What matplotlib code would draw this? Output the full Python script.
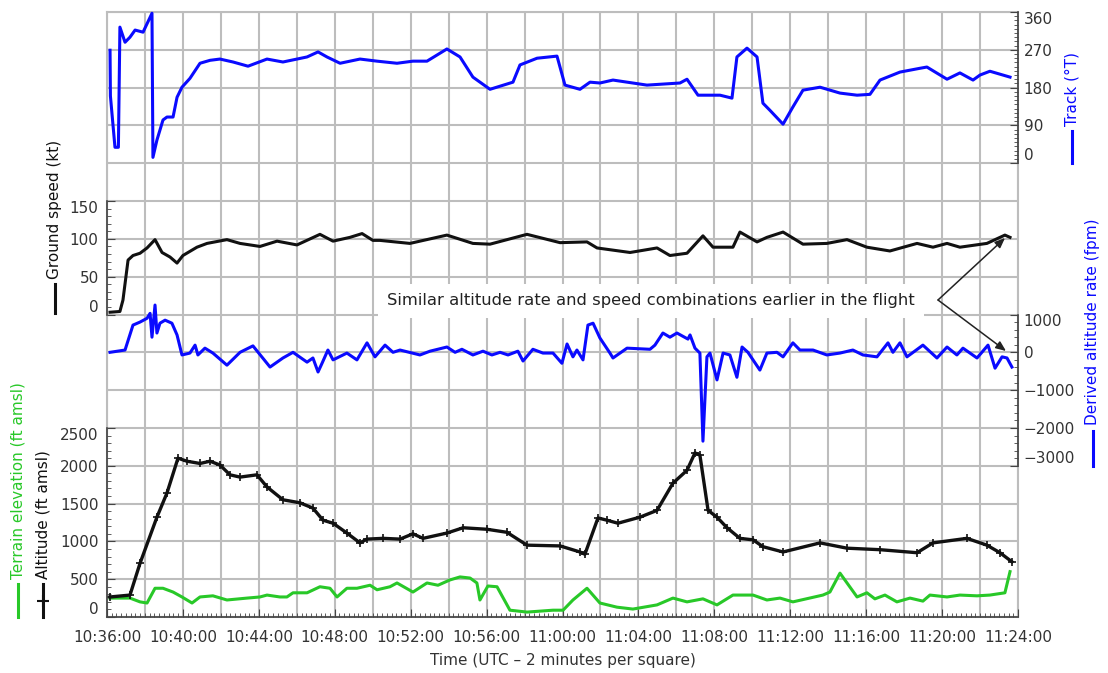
import matplotlib
matplotlib.use('Agg')
import matplotlib.pyplot as plt
from matplotlib.lines import Line2D
from matplotlib.ticker import MultipleLocator

# ---------------- data (time = minutes after 10:36:00 UTC) ----------------
track_t = [0.16, 0.18, 0.42, 0.60, 0.68, 0.95, 1.21, 1.48, 1.90, 2.37, 2.42, 2.63, 2.95, 3.16, 3.48,
           3.69, 3.95, 4.37, 4.90, 5.43, 5.95, 6.64, 7.43, 8.43, 9.27, 10.54, 11.12, 11.59, 12.28,
           13.33, 14.23, 15.28, 16.12, 16.86, 17.91, 18.60, 19.28, 20.18, 21.39, 21.76, 22.66,
           23.71, 24.13, 24.92, 25.45, 25.97, 26.66, 28.45, 30.19, 30.56, 31.14, 32.30, 32.93,
           33.19, 33.72, 34.25, 34.56, 34.93, 35.62, 36.14, 36.67, 37.57, 38.62, 39.52, 40.20,
           40.73, 41.78, 42.83, 43.20, 44.26, 44.94, 45.63, 46.00, 46.52, 47.05, 47.58]
track_deg = [269, 160, 38, 38, 324, 288, 300, 317, 312, 357, 14, 55, 103, 110, 110,
             157, 181, 202, 238, 245, 248, 241, 231, 248, 241, 253, 265, 253, 238,
             248, 243, 238, 243, 243, 272, 253, 205, 176, 193, 234, 250,
             255, 186, 176, 193, 191, 198, 186, 191, 200, 162, 162, 155,
             253, 274, 253, 143, 126, 93, 134, 174, 181, 167, 162, 164,
             198, 217, 226, 229, 200, 215, 198, 210, 219, 212, 205]

speed_t = [0.16, 0.68, 0.84, 1.11, 1.37, 1.74, 2.11, 2.53, 2.90, 3.32, 3.69, 4.00, 4.74, 5.27,
           6.32, 7.01, 8.06, 8.96, 10.01, 11.22, 11.91, 12.80, 13.44, 14.01, 14.38, 15.96, 17.91,
           19.28, 20.18, 22.13, 23.87, 25.29, 25.82, 27.56, 28.98, 29.66, 30.56, 31.40, 31.93,
           32.98, 33.35, 34.25, 34.77, 35.62, 36.67, 37.93, 38.99, 40.04, 41.25, 42.68, 43.52,
           44.26, 44.94, 46.36, 47.31, 47.58]
speed_kt = [3, 4, 19, 72, 78, 81, 88, 99, 82, 76, 68, 78, 89, 94,
            99, 94, 90, 97, 92, 106, 97, 102, 107, 98, 98, 94, 105,
            94, 93, 106, 95, 96, 88, 82, 88, 78, 81, 104, 89,
            89, 109, 96, 102, 109, 93, 94, 99, 89, 84, 94, 89,
            94, 89, 94, 105, 102]

rate_t = [0.16, 0.95, 1.37, 1.74, 2.11, 2.27, 2.37, 2.53, 2.63, 2.79, 3.06, 3.42, 3.69, 3.95,
          4.37, 4.64, 4.79, 5.16, 5.58, 6.32, 7.01, 7.69, 8.59, 9.27, 9.80, 10.54, 10.85,
          11.12, 11.33, 11.64, 11.91, 12.64, 13.17, 13.70, 14.12, 14.65, 15.07, 15.44, 16.49,
          17.02, 17.91, 18.34, 18.70, 19.28, 19.81, 20.28, 20.71, 21.13, 21.65, 21.92, 22.44,
          22.97, 23.50, 23.97, 24.24, 24.55, 24.76, 25.08, 25.34, 25.61, 25.97, 26.50, 26.66,
          27.40, 28.61, 28.87, 29.29, 29.66, 30.03, 30.61, 30.72, 30.98, 31.24, 31.40, 31.61,
          31.77, 32.14, 32.46, 32.82, 33.19, 33.46, 33.77, 34.40, 34.77, 35.30, 35.62, 36.14,
          36.51, 37.20, 37.93, 38.62, 39.30, 39.83, 40.57, 41.15, 41.41, 41.78, 42.15, 42.99,
          43.73, 44.26, 44.78, 45.10, 45.84, 46.42, 46.79, 47.16, 47.42, 47.68]
rate_fpm = [0, 60, 720, 800, 900, 1030, 400, 1250, 510, 770, 850, 770, 460, -70,
            -20, 190, -70, 110, -20, -340, 0, 170, -390, -150, 0, -260, -150,
            -520, -290, 60, -200, -20, -200, 250, -120, 190, 0, 60, -70,
            30, 140, 0, 80, -70, 30, -70, 0, -70, 30, -230, 80,
            -20, -20, -290, 220, -120, 60, -200, 720, 770, 380, -20, -150,
            110, 80, 190, 510, 400, 510, 350, 460, 110, -20, -2350, -120,
            -20, -730, -20, -70, -660, 140, 0, -470, -20, 0, -120, 250,
            60, 60, -70, -20, 60, -70, -120, 250, 0, 250, -120, 190,
            -150, 140, -70, 110, -150, 190, -420, -120, -150, -390]

alt_t = [0.16, 1.21, 1.74, 2.63, 3.16, 3.74, 4.21, 4.90, 5.43, 5.95, 6.48, 7.01, 7.90, 8.43,
         9.27, 10.17, 10.85, 11.38, 11.91, 12.64, 13.33, 13.70, 14.54, 15.44, 16.12, 16.65,
         17.91, 18.76, 20.02, 21.07, 22.13, 23.87, 24.92, 25.18, 25.87, 26.34, 26.92, 28.08,
         28.98, 29.82, 30.56, 30.98, 31.24, 31.67, 32.14, 32.67, 33.35, 34.04, 34.56, 35.62,
         37.57, 38.99, 40.73, 42.68, 43.52, 45.31, 46.36, 47.05, 47.68]
alt_ft = [265, 290, 710, 1320, 1640, 2100, 2060, 2030, 2060, 2010, 1880, 1850, 1880, 1720,
          1550, 1510, 1440, 1280, 1240, 1110, 980, 1030, 1040, 1030, 1100, 1040,
          1110, 1180, 1160, 1120, 950, 940, 860, 830, 1310, 1280, 1240, 1320,
          1410, 1770, 1940, 2170, 2140, 1410, 1320, 1180, 1040, 1020, 930, 860,
          980, 910, 890, 850, 980, 1040, 950, 850, 730]

terr_t = [0.16, 1.21, 1.74, 2.11, 2.53, 2.95, 3.48, 3.95, 4.48, 4.90, 5.58, 6.32, 7.38, 8.06,
          8.43, 9.11, 9.48, 9.80, 10.54, 11.22, 11.75, 12.12, 12.64, 13.17, 13.86, 14.23, 14.91,
          15.28, 16.12, 16.86, 17.44, 18.07, 18.60, 19.13, 19.49, 19.65, 20.07, 20.55, 21.23,
          22.13, 23.50, 24.03, 24.55, 25.29, 25.97, 26.87, 27.71, 28.98, 29.82, 30.56, 31.40,
          32.14, 32.98, 34.04, 34.77, 35.46, 36.14, 37.72, 38.09, 38.62, 39.52, 40.04, 40.46,
          40.99, 41.62, 42.31, 42.99, 43.36, 44.26, 44.94, 45.84, 46.52, 47.31, 47.58]
terr_ft = [250, 250, 200, 185, 380, 380, 330, 265, 185, 265, 280, 225, 250, 265,
           290, 265, 265, 320, 320, 400, 380, 265, 380, 380, 420, 360, 400,
           450, 330, 450, 420, 490, 530, 515, 450, 225, 410, 400, 90,
           65, 90, 90, 225, 380, 185, 130, 105, 160, 250, 200, 240,
           160, 290, 290, 225, 250, 200, 290, 330, 580, 265, 320, 240,
           290, 200, 250, 210, 290, 265, 290, 280, 290, 320, 600]

time_ticks = [0, 4, 8, 12, 16, 20, 24, 28, 32, 36, 40, 44, 48]
time_labels = ['10:36:00', '10:40:00', '10:44:00', '10:48:00', '10:52:00', '10:56:00', '11:00:00',
               '11:04:00', '11:08:00', '11:12:00', '11:16:00', '11:20:00', '11:24:00']
track_ticks = [0, 90, 180, 270, 360]
speed_ticks = [0, 50, 100, 150]
rate_ticks = [-3000, -2000, -1000, 0, 1000]
alt_ticks = [0, 500, 1000, 1500, 2000, 2500]

NOTE = 'Similar altitude rate and speed combinations earlier in the flight'

# ---------------- layout ----------------
W, H = 1108, 673
plt.rcParams['font.family'] = ['DejaVu Sans']
fig = plt.figure(figsize=(W / 100, H / 100), dpi=100)

BLUE = '#0a0aff'
GREEN = '#28c828'
BLACK = '#111111'
GRID = '#bdbdbd'
AXC = '#444444'
TXT = '#333333'
FS = 11

X0, X1, Y0, Y1 = 107, 1018, 12, 617
NROWS = 16


def fx(x):
    return x / W


def fy(y):
    return 1 - y / H


def row_y(r):
    return Y0 + r * (Y1 - Y0) / NROWS


def panel(r0, r1):
    yt, yb = row_y(r0), row_y(r1)
    return [fx(X0), fy(yb), (X1 - X0) / W, (yb - yt) / H]


ax_g = fig.add_axes(panel(0, 16))
ax_g.set_xlim(0, 48)
ax_g.set_ylim(0, 16)
ax_g.set_xticks(range(0, 49, 2))
ax_g.set_yticks(range(17))
ax_g.grid(True, color=GRID, lw=1.5)
ax_g.tick_params(length=0, labelbottom=False, labelleft=False)
for s in ax_g.spines.values():
    s.set_color(GRID)
    s.set_linewidth(1.5)


def make_panel(r0, r1, side, ylim, yticks, minor, pad):
    ax = fig.add_axes(panel(r0, r1))
    ax.patch.set_alpha(0)
    ax.set_xlim(0, 48)
    ax.set_ylim(*ylim)
    for k, s in ax.spines.items():
        s.set_visible(k == side)
        s.set_color(AXC)
        s.set_linewidth(1.2)
    ax.set_yticks(yticks)
    ax.yaxis.set_minor_locator(MultipleLocator(minor))
    if side == 'right':
        ax.yaxis.tick_right()
    ax.tick_params(axis='y', which='both', direction='in', color=AXC,
                   labelcolor=TXT, labelsize=FS)
    ax.tick_params(axis='y', which='major', length=6, pad=pad)
    ax.tick_params(axis='y', which='minor', length=3)
    ax.set_xticks([])
    labs = ax.get_yticklabels()
    labs[0].set_va('bottom')
    labs[-1].set_va('top')
    return ax


ax_tr = make_panel(0, 4, 'right', (0, 360), track_ticks, 10, 4)
ax_sp = make_panel(5, 8, 'left', (0, 150), speed_ticks, 10, 6)
ax_rt = make_panel(8, 12, 'right', (-3000, 1000), rate_ticks, 200, 4)
ax_al = make_panel(11, 16, 'left', (0, 2500), alt_ticks, 100, 6)
ax_al.spines['bottom'].set_visible(True)
ax_al.set_xticks(time_ticks)
ax_al.set_xticklabels(time_labels)
ax_al.xaxis.set_minor_locator(MultipleLocator(0.25))
ax_al.tick_params(axis='x', which='both', direction='in', color=AXC, labelcolor=TXT,
                  labelsize=FS)
ax_al.tick_params(axis='x', which='major', length=6, pad=9)
ax_al.tick_params(axis='x', which='minor', length=3)
ax_al.set_xlabel('Time (UTC – 2 minutes per square)', fontsize=FS, color=TXT, labelpad=6)

LW = 2.2
ax_tr.plot(track_t, track_deg, color=BLUE, lw=LW, clip_on=False)
ax_sp.plot(speed_t, speed_kt, color=BLACK, lw=LW, clip_on=False)
ax_rt.plot(rate_t, rate_fpm, color=BLUE, lw=LW, clip_on=False)
ax_al.plot(terr_t, terr_ft, color=GREEN, lw=LW)
ax_al.plot(alt_t, alt_ft, color=BLACK, lw=2.4, marker='+', ms=6, mew=1.2)

# ---------------- axis titles with line keys ----------------
def key_label(x, ytxt_bottom, yline_top, yline_bot, text, color, marker=None):
    fig.text(fx(x), fy(ytxt_bottom), text, rotation=90, ha='center', va='bottom',
             fontsize=FS, color=color)
    fig.add_artist(Line2D([fx(x), fx(x)], [fy(yline_top), fy(yline_bot)], color=color,
                          lw=2.2, transform=fig.transFigure))
    if marker:
        fig.add_artist(Line2D([fx(x)], [fy((yline_top + yline_bot) / 2)], color=color,
                              marker=marker, ms=8, mew=1.5, transform=fig.transFigure))


key_label(1072, 126, 131, 163, 'Track (°T)', BLUE)
key_label(1093, 425, 431, 466, 'Derived altitude rate (fpm)', BLUE)
key_label(55, 279, 284, 313, 'Ground speed (kt)', BLACK)
key_label(43, 579, 584, 617, 'Altitude (ft amsl)', BLACK, marker='+')
key_label(18, 579, 584, 617, 'Terrain elevation (ft amsl)', GREEN)

# ---------------- annotation ----------------
fig.text(fx(651), fy(301), NOTE, ha='center', va='center', fontsize=11.8, color='#222222',
         bbox=dict(boxstyle='square,pad=0.55', facecolor='white', edgecolor='none'))
for tip in [(1005, 238), (1006, 351)]:
    fig.add_artist(matplotlib.patches.FancyArrowPatch(
        (fx(938), fy(300)), (fx(tip[0]), fy(tip[1])), transform=fig.transFigure,
        arrowstyle='-|>,head_length=6,head_width=2.5', color='#222222', lw=1.1,
        shrinkA=0, shrinkB=0))

fig.savefig('out.png', dpi=100)
